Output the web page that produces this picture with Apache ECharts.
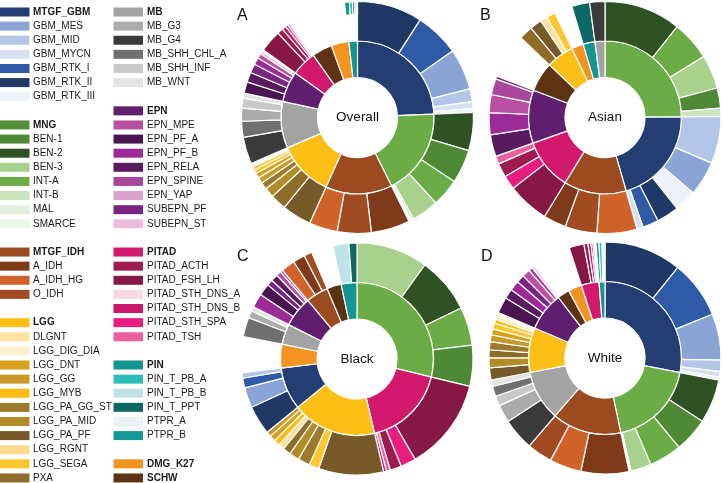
<!DOCTYPE html>
<html><head><meta charset="utf-8">
<script src="https://cdn.jsdelivr.net/npm/echarts@6/dist/echarts.min.js"></script>
<style>html,body{margin:0;padding:0;background:#fff}#c{width:723px;height:483px}</style>
</head><body><div id="c"></div>
<script>
// ---- legend families (first entry = group / inner ring class) ----
const famGBM = ['MTGF_GBM','GBM_MES','GBM_MID','GBM_MYCN','GBM_RTK_I','GBM_RTK_II','GBM_RTK_III'];
const famMNG = ['MNG','BEN-1','BEN-2','BEN-3','INT-A','INT-B','MAL','SMARCE'];
const famIDH = ['MTGF_IDH','A_IDH','A_IDH_HG','O_IDH'];
const famLGG = ['LGG','DLGNT','LGG_DIG_DIA','LGG_DNT','LGG_GG','LGG_MYB','LGG_PA_GG_ST','LGG_PA_MID','LGG_PA_PF','LGG_RGNT','LGG_SEGA','PXA'];
const famMB = ['MB','MB_G3','MB_G4','MB_SHH_CHL_A','MB_SHH_INF','MB_WNT'];
const famEPN = ['EPN','EPN_MPE','EPN_PF_A','EPN_PF_B','EPN_RELA','EPN_SPINE','EPN_YAP','SUBEPN_PF','SUBEPN_ST'];
const famPITAD = ['PITAD','PITAD_ACTH','PITAD_FSH_LH','PITAD_STH_DNS_A','PITAD_STH_DNS_B','PITAD_STH_SPA','PITAD_TSH'];
const famPIN = ['PIN','PIN_T_PB_A','PIN_T_PB_B','PIN_T_PPT','PTPR_A','PTPR_B'];
const famDMG = ['DMG_K27'];
const famSCHW = ['SCHW'];

// ---- panel data (values = share of cases, clockwise from 12 o'clock) ----
const overallNames = ['GBM_RTK_II','GBM_RTK_I','GBM_MES','GBM_MID','GBM_MYCN','GBM_RTK_III',
 'BEN-2','BEN-1','INT-A','BEN-3','INT-B','MAL','SMARCE',
 'A_IDH','O_IDH','A_IDH_HG',
 'LGG_PA_PF','PXA','LGG_PA_MID','LGG_PA_GG_ST','LGG_GG','LGG_DNT','LGG_SEGA','LGG_MYB','DLGNT','LGG_RGNT','LGG_DIG_DIA',
 'MB_G4','MB_SHH_CHL_A','MB_G3','MB_SHH_INF','MB_WNT',
 'EPN_PF_A','EPN_RELA','SUBEPN_PF','EPN_PF_B','EPN_MPE','SUBEPN_ST','EPN_SPINE','EPN_YAP',
 'PITAD_FSH_LH','PITAD_ACTH','PITAD_STH_DNS_B','PITAD_STH_SPA','PITAD_TSH','PITAD_STH_DNS_A',
 'SCHW','DMG_K27',
 'PTPR_B','PIN_T_PB_A','PIN_T_PPT','PIN_T_PB_B','PTPR_A'];
const overallValues = [32.7,22.3,20.7,6.4,3.4,1.9,
 19.1,16.9,14,13.6,1.2,0.8,0.5,
 19.5,17,14.3,
 14.7,8,5,3.5,3,2.5,2,1.5,0.8,0.6,0.6,
 13.5,8,6.5,5,2.5,
 5.7,5,4.5,3.5,2.5,1.5,0.5,0.3,
 11,3,2,1.3,1,0.7,
 15.3,13.5,
 2.5,1.5,1,1,0.5];
// groups whose sub-classes are drawn only in the outermost band (Overall panel)
const overallDetached = ['PIN'];

const asianNames = ['BEN-2','INT-A','BEN-3','BEN-1','INT-B',
 'GBM_MID','GBM_MES','GBM_RTK_III','GBM_RTK_II','GBM_RTK_I','GBM_MYCN',
 'A_IDH_HG','O_IDH','A_IDH',
 'PITAD_FSH_LH','PITAD_STH_SPA','PITAD_ACTH','PITAD_TSH',
 'EPN_RELA','EPN_PF_B','EPN_MPE','EPN_SPINE','SUBEPN_PF',
 'SCHW',
 'PXA','LGG_PA_PF','DLGNT','LGG_SEGA',
 'DMG_K27',
 'PIN_T_PPT',
 'MB_G4'];
const asianValues = [38.5,19.8,17,10.1,4.1,
 23.7,17.4,11.1,11.2,8,3.1,
 20.1,16,11.4,
 21,7,7,4,
 11,11,9,8,1.5,
 22.5,
 7,6,3.5,4.5,
 9,
 9,
 7.6];

const blackNames = ['BEN-3','BEN-2','INT-A','BEN-1',
 'PITAD_FSH_LH','PITAD_STH_SPA','PITAD_ACTH','PITAD_TSH','PITAD_STH_DNS_B',
 'LGG_PA_PF','LGG_SEGA','LGG_PA_GG_ST','LGG_PA_MID','PXA','DLGNT','LGG_MYB','LGG_DNT','LGG_GG',
 'GBM_RTK_II','GBM_MES','GBM_RTK_I','GBM_MID',
 'DMG_K27',
 'MB_SHH_CHL_A','MB_G3','MB_WNT',
 'EPN_PF_B','EPN_PF_A','SUBEPN_PF','EPN_RELA','EPN_MPE','EPN_SPINE',
 'A_IDH_HG','A_IDH','O_IDH',
 'SCHW',
 'PIN_T_PB_B','PIN_T_PPT'];
const blackValues = [35.8,28,19.2,20.5,
 46.2,7.7,5.7,2,1.4,
 32.5,5,6,5,4,3,3,3,2.5,
 14.6,10.1,4.9,2.7,
 18,
 9.7,3.5,2.3,
 7,6,3,3.5,2.5,1.2,
 7,6,4,
 11,
 8,4];

const whiteNames = ['GBM_RTK_II','GBM_RTK_I','GBM_MES','GBM_MID','GBM_MYCN','GBM_RTK_III',
 'BEN-2','BEN-1','INT-A','BEN-3','INT-B','MAL','SMARCE',
 'A_IDH','A_IDH_HG','O_IDH',
 'MB_G4','MB_G3','MB_SHH_INF','MB_SHH_CHL_A','MB_WNT',
 'LGG_PA_PF','LGG_PA_MID','PXA','LGG_PA_GG_ST','LGG_GG','LGG_DNT','LGG_SEGA','LGG_MYB','DLGNT','LGG_RGNT','LGG_DIG_DIA',
 'EPN_PF_A','EPN_RELA','EPN_PF_B','SUBEPN_PF','EPN_MPE','EPN_SPINE','SUBEPN_ST',
 'SCHW','DMG_K27',
 'PITAD_FSH_LH','PITAD_ACTH','PITAD_STH_DNS_B','PITAD_STH_SPA','PITAD_TSH','PITAD_STH_DNS_A',
 'PTPR_B','PIN_T_PB_A','PIN_T_PB_B','PTPR_A'];
const whiteValues = [38.8,29,23.2,5.7,2.8,1.5,
 22,17.3,16.4,10.3,0.5,0.3,0.2,
 24,16,12.7,
 16,9,5,5,3.3,
 6,5,4,4,3.5,3,3,2,1.5,1,1,
 8,5,5,4,4,2,1.3,
 9.3,10.3,
 7.5,2,1.5,1,0.8,0.7,
 1.5,1.5,1,0.5];

const panelTitles = ['Overall','Asian','Black','White'];
const panelLetters = ['A','B','C','D'];

// ---- colours ----
const colors = {
 'MTGF_GBM':'#243E73','GBM_MES':'#8AA4D5','GBM_MID':'#B3C6E7','GBM_MYCN':'#D7E0F1','GBM_RTK_I':'#2F5AA5','GBM_RTK_II':'#1F3866','GBM_RTK_III':'#EEF2F9',
 'MNG':'#6BAC47','BEN-1':'#4E8A36','BEN-2':'#2E5223','BEN-3':'#A9D18E','INT-A':'#6BAC47','INT-B':'#CDE5BF','MAL':'#E2EFDA','SMARCE':'#EFF6EA',
 'MTGF_IDH':'#9C4A20','A_IDH':'#7F3A1A','A_IDH_HG':'#D0632A','O_IDH':'#A04B22',
 'LGG':'#FBBF15','DLGNT':'#FCE2A0','LGG_DIG_DIA':'#FEF1D0','LGG_DNT':'#D8A11D','LGG_GG':'#C99A2A','LGG_MYB':'#FCBD13','LGG_PA_GG_ST':'#9C7A2B','LGG_PA_MID':'#B28C27','LGG_PA_PF':'#77592A','LGG_RGNT':'#FCDC8C','LGG_SEGA':'#FCC62C','PXA':'#8E6C2A',
 'MB':'#A3A3A3','MB_G3':'#ABABAB','MB_G4':'#3A3A3A','MB_SHH_CHL_A':'#707070','MB_SHH_INF':'#C9C9C9','MB_WNT':'#E3E3E3',
 'EPN':'#5F1E6E','EPN_MPE':'#B84FA0','EPN_PF_A':'#4A1352','EPN_PF_B':'#9C2A97','EPN_RELA':'#5A1A60','EPN_SPINE':'#A8479C','EPN_YAP':'#D9A1CC','SUBEPN_PF':'#7B2582','SUBEPN_ST':'#EABDDC',
 'PITAD':'#D2196D','PITAD_ACTH':'#9E1A4F','PITAD_FSH_LH':'#871846','PITAD_STH_DNS_A':'#F9D7E5','PITAD_STH_DNS_B':'#C8186A','PITAD_STH_SPA':'#EA1C80','PITAD_TSH':'#EC5F9F',
 'PIN':'#139591','PIN_T_PB_A':'#2EBDB9','PIN_T_PB_B':'#BEE2E8','PIN_T_PPT':'#0C6865','PTPR_A':'#E7F3F6','PTPR_B':'#139A96',
 'DMG_K27':'#F39422','SCHW':'#5E3313'
};
const legendSwatchOverride = {'MNG':'#55903B'};

const families = [famGBM,famMNG,famIDH,famLGG,famMB,famEPN,famPITAD,famPIN,famDMG,famSCHW];
const groupOf = {};
families.forEach(f => f.forEach(n => { groupOf[n] = f[0]; }));

function buildTree(names, values, detached) {
  const tree = [], byGroup = {};
  names.forEach((n, i) => {
    const g = groupOf[n];
    if (g === n) { tree.push({name: n, value: values[i], itemStyle: {color: colors[n]}}); return; }
    if (!byGroup[g]) {
      byGroup[g] = {name: g, children: [], value: 0, itemStyle: {color: colors[g]}};
      tree.push(byGroup[g]);
    }
    if (detached.indexOf(g) >= 0) { byGroup[g].value += values[i]; byGroup[g].children = undefined; byGroup[g].children = []; byGroup[g]._det = true; }
    else byGroup[g].children.push({name: n, value: values[i], itemStyle: {color: colors[n]}});
  });
  tree.forEach(t => { if (t._det) { delete t.children; delete t._det; } else if (t.children) { delete t.value; } });
  return tree;
}

const panels = [[overallNames, overallValues, overallDetached],[asianNames, asianValues, []],[blackNames, blackValues, []],[whiteNames, whiteValues, []]];
const centers = [[357.5,117.5],[605,117.5],[357,359],[605,358]];
const R_HOLE = 40, R_MID = 76.5, R_OUT = 116, R_DET = 103;

const series = [];
panels.forEach((p, i) => {
  series.push({
    type: 'sunburst',
    center: centers[i],
    radius: [R_HOLE, R_OUT],
    startAngle: 90,
    clockwise: true,
    sort: null,
    nodeClick: false,
    animation: false,
    label: {show: false},
    emphasis: {disabled: true},
    itemStyle: {borderColor: '#ffffff', borderWidth: 1.2},
    levels: [{}, {r0: R_HOLE, r: R_MID}, {r0: R_MID, r: R_OUT}],
    data: buildTree(p[0], p[1], p[2])
  });
  if (p[2].length) {
    series.push({
      type: 'pie',
      center: centers[i],
      radius: [R_DET, R_OUT],
      startAngle: 90,
      clockwise: true,
      silent: true,
      animation: false,
      minAngle: 0,
      label: {show: false}, labelLine: {show: false},
      data: p[0].map((n, k) => {
        const det = p[2].indexOf(groupOf[n]) >= 0;
        return {name: n, value: p[1][k],
          itemStyle: det ? {color: colors[n], borderColor: '#ffffff', borderWidth: 1.2}
                         : {color: 'rgba(0,0,0,0)', borderWidth: 0}};
      })
    });
  }
});

// ---- legend drawn as graphics ----
const FONT = '"Liberation Sans", Arial, Helvetica, sans-serif';
const graphics = [];
const legendCols = [
  {swX: 0, txX: 33, layout: [famGBM, null, famMNG, null, famIDH, null, famLGG]},
  {swX: 113.5, txX: 147, layout: [famMB, null, famEPN, null, famPITAD, null, famPIN, null, famDMG, famSCHW]}
];
const ROW0 = 12, ROWH = 14.12;
legendCols.forEach(col => {
  let row = 0;
  col.layout.forEach(f => {
    if (f === null) { row++; return; }
    f.forEach((n, k) => {
      const y = ROW0 + ROWH * row;
      graphics.push({type: 'rect', shape: {x: col.swX, y: y - 4.5, width: 29.5, height: 9}, style: {fill: legendSwatchOverride[n] || colors[n]}, silent: true});
      graphics.push({type: 'text', x: col.txX, y: y, style: {text: n, font: (k === 0 ? 'bold ' : '') + '10px ' + FONT, fill: '#1a1a1a', align: 'left', verticalAlign: 'middle'}, silent: true});
      row++;
    });
  });
});
// panel letters & centre titles
const letterPos = [[237,16],[480,16],[237,257],[481,257]];
panelLetters.forEach((l, i) => {
  graphics.push({type: 'text', x: letterPos[i][0], y: letterPos[i][1], style: {text: l, font: '16px ' + FONT, fill: '#111', align: 'left', verticalAlign: 'middle'}});
});
panelTitles.forEach((t, i) => {
  graphics.push({type: 'text', x: centers[i][0], y: centers[i][1], style: {text: t, font: '13.5px ' + FONT, fill: '#111', align: 'center', verticalAlign: 'middle'}});
});

const chart = echarts.init(document.getElementById('c'), null, {renderer: 'canvas'});
chart.setOption({animation: false, backgroundColor: '#ffffff', series: series, graphic: graphics});
</script></body></html>
